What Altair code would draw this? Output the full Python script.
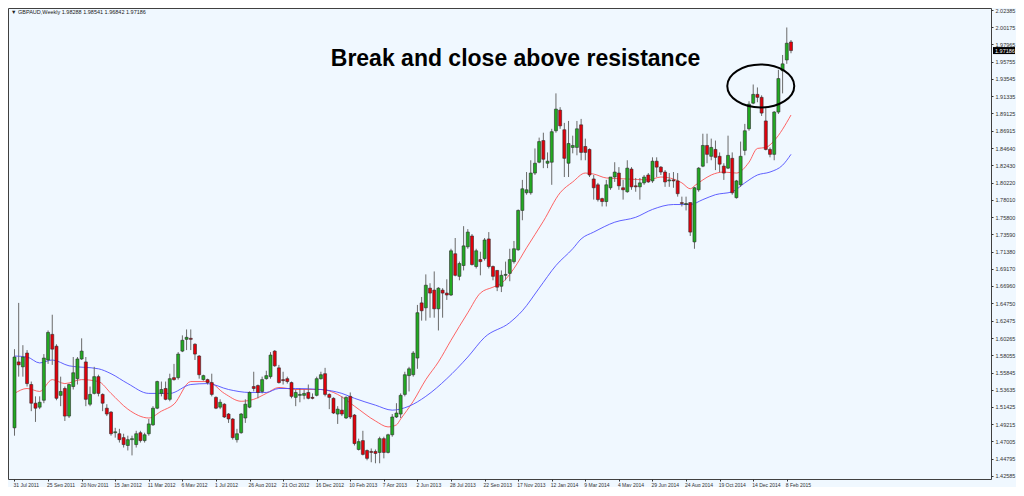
import json
import altair as alt
import pandas as pd

# ---- weekly GBPAUD candles ----
opens = [1.4875,1.5721,1.5658,1.5835,1.5431,1.5191,1.5140,1.5229,1.5746,1.6075,
         1.5923,1.5292,1.5380,1.5026,1.5405,1.5506,1.5759,1.5721,1.5178,1.5317,
         1.5532,1.5304,1.5127,1.5077,1.4812,1.4799,1.4749,1.4648,1.4723,1.4660,
         1.4812,1.4711,1.4799,1.4913,1.5127,1.5317,1.5380,1.5241,1.5519,1.5519,
         1.5860,1.6011,1.6024,1.5948,1.5797,1.5494,1.5494,1.5456,1.5266,1.5140,
         1.5178,1.5052,1.4988,1.4723,1.4812,1.5001,1.5140,1.5405,1.5418,1.5342,
         1.5506,1.5532,1.5860,1.5645,1.5494,1.5506,1.5456,1.5266,1.5292,1.5292,
         1.5329,1.5266,1.5292,1.5506,1.5570,1.5304,1.5254,1.5052,1.5102,1.5001,
         1.5279,1.5039,1.4597,1.4711,1.4584,1.4572,1.4572,1.4559,1.4736,1.4559,
         1.4786,1.5014,1.5052,1.5304,1.5545,1.5557,1.5771,1.6479,1.6416,1.6668,
         1.6643,1.6403,1.6643,1.6605,1.6580,1.7110,1.6820,1.6959,1.7199,1.7338,
         1.6946,1.7035,1.7047,1.7300,1.6946,1.6896,1.6693,1.6833,1.6858,1.7009,
         1.7161,1.7666,1.7893,1.7893,1.8146,1.8285,1.8563,1.8272,1.8285,1.8689,
         1.8954,1.8702,1.8272,1.8475,1.8475,1.8765,1.8487,1.8449,1.8070,1.7995,
         1.7818,1.7780,1.7957,1.8095,1.8146,1.7957,1.7906,1.8197,1.7982,1.7969,
         1.8020,1.8121,1.8045,1.8298,1.8222,1.8159,1.8045,1.8058,1.8045,1.7767,
         1.7742,1.7767,1.7262,1.7931,1.8234,1.8500,1.8361,1.8449,1.8361,1.8235,
         1.8209,1.8335,1.7830,1.7995,1.8437,1.8714,1.9043,1.9156,1.9118,1.8815,
         1.8449,1.8386,1.8929,1.9460,1.9598,1.98288]
highs = [1.5885,1.6479,1.5936,1.5873,1.5469,1.5279,1.5279,1.5822,1.6125,1.6327,
         1.5948,1.5532,1.5405,1.5443,1.5784,1.5784,1.6024,1.5784,1.5405,1.5658,
         1.5557,1.5317,1.5178,1.5089,1.4875,1.4862,1.4799,1.4774,1.4774,1.4837,
         1.4837,1.4812,1.4988,1.5153,1.5480,1.5469,1.5469,1.5570,1.5696,1.5847,
         1.6062,1.6138,1.6138,1.5961,1.5809,1.5557,1.5506,1.5570,1.5279,1.5241,
         1.5191,1.5065,1.5001,1.4862,1.5065,1.5241,1.5342,1.5595,1.5431,1.5532,
         1.5608,1.5847,1.5873,1.5683,1.5595,1.5532,1.5469,1.5367,1.5380,1.5367,
         1.5431,1.5317,1.5532,1.5595,1.5645,1.5317,1.5266,1.5153,1.5279,1.5279,
         1.5329,1.5052,1.4736,1.4837,1.4597,1.4610,1.4597,1.4761,1.4761,1.4799,
         1.5052,1.5191,1.5317,1.5595,1.5658,1.5860,1.6453,1.6555,1.6845,1.6731,
         1.6883,1.6681,1.6668,1.6782,1.7174,1.7312,1.7009,1.7464,1.7426,1.7363,
         1.7174,1.7136,1.7312,1.7388,1.6959,1.6896,1.6896,1.7009,1.7174,1.7274,
         1.7679,1.8058,1.8159,1.8310,1.8462,1.8601,1.8664,1.8411,1.8714,1.9169,
         1.8992,1.8790,1.8815,1.8626,1.8815,1.8841,1.8588,1.8462,1.8121,1.8020,
         1.7830,1.8058,1.8095,1.8285,1.8222,1.8058,1.8310,1.8222,1.8083,1.8083,
         1.8121,1.8146,1.8348,1.8348,1.8235,1.8184,1.8146,1.8159,1.8146,1.7843,
         1.7843,1.7767,1.7969,1.8222,1.8651,1.8651,1.8588,1.8563,1.8411,1.8272,
         1.8626,1.8411,1.8058,1.8550,1.8777,1.9068,1.9283,1.9245,1.9144,1.8980,
         1.8474,1.8942,1.9472,1.9662,2.0015,1.98541]
lows = [1.4774,1.5532,1.5532,1.5405,1.5089,1.4951,1.5115,1.5191,1.5696,1.5683,
        1.5229,1.5153,1.4963,1.5001,1.5367,1.5431,1.5746,1.5153,1.5153,1.5304,
        1.5279,1.5089,1.5026,1.4774,1.4749,1.4686,1.4622,1.4584,1.4521,1.4622,
        1.4686,1.4686,1.4774,1.4900,1.5115,1.5279,1.5229,1.5216,1.5481,1.5494,
        1.5847,1.5873,1.5873,1.5746,1.5506,1.5481,1.5431,1.5279,1.5115,1.5115,
        1.5001,1.4938,1.4723,1.4686,1.4799,1.4938,1.5127,1.5342,1.5254,1.5317,
        1.5494,1.5506,1.5658,1.5443,1.5431,1.5443,1.5254,1.5153,1.5203,1.5241,
        1.5241,1.5241,1.5279,1.5494,1.5279,1.5115,1.5052,1.4925,1.5026,1.4988,
        1.4988,1.4648,1.4584,1.4521,1.4458,1.4433,1.4420,1.4420,1.4483,1.4546,
        1.4761,1.5001,1.5001,1.5279,1.5342,1.5532,1.5633,1.6251,1.6251,1.6289,
        1.6289,1.6125,1.6289,1.6517,1.6567,1.6820,1.6769,1.6896,1.7174,1.6959,
        1.6921,1.6833,1.7022,1.6921,1.6769,1.6630,1.6618,1.6769,1.6757,1.6984,
        1.7148,1.7540,1.7868,1.7868,1.8121,1.8272,1.8209,1.8209,1.7995,1.8664,
        1.8714,1.8095,1.8095,1.8399,1.8374,1.8310,1.8310,1.8095,1.7805,1.7780,
        1.7717,1.7717,1.7931,1.8032,1.7931,1.7805,1.7893,1.7931,1.7906,1.7805,
        1.7995,1.8020,1.8020,1.8095,1.8121,1.7969,1.7969,1.7957,1.7843,1.7717,
        1.7666,1.7338,1.7174,1.7906,1.8222,1.8272,1.8310,1.8184,1.8159,1.8058,
        1.8197,1.7868,1.7818,1.7969,1.8374,1.8689,1.9030,1.9055,1.8879,1.8437,
        1.8348,1.8310,1.8904,1.9169,1.9548,1.96842]
closes = [1.5784,1.5683,1.5784,1.5443,1.5191,1.5127,1.5203,1.5771,1.6100,1.5885,
          1.5254,1.5342,1.5026,1.5431,1.5582,1.5759,1.5860,1.5241,1.5304,1.5532,
          1.5317,1.5191,1.5052,1.4799,1.4824,1.4723,1.4660,1.4723,1.4736,1.4799,
          1.4711,1.4786,1.4925,1.5127,1.5469,1.5367,1.5241,1.5506,1.5494,1.5822,
          1.5999,1.6037,1.6011,1.5822,1.5557,1.5545,1.5456,1.5304,1.5127,1.5203,
          1.5014,1.4989,1.4749,1.4799,1.5052,1.5178,1.5329,1.5380,1.5329,1.5494,
          1.5545,1.5809,1.5671,1.5456,1.5481,1.5469,1.5279,1.5329,1.5304,1.5317,
          1.5254,1.5254,1.5506,1.5557,1.5304,1.5266,1.5065,1.5115,1.5052,1.5266,
          1.5014,1.4673,1.4698,1.4534,1.4483,1.4559,1.4546,1.4736,1.4559,1.4786,
          1.5014,1.5065,1.5292,1.5557,1.5633,1.5835,1.6353,1.6378,1.6706,1.6605,
          1.6403,1.6668,1.6605,1.6580,1.7148,1.6833,1.6984,1.7211,1.7388,1.6971,
          1.7148,1.7009,1.7287,1.6946,1.6820,1.6681,1.6833,1.6845,1.7035,1.7174,
          1.7666,1.7944,1.7931,1.8146,1.8272,1.8550,1.8323,1.8298,1.8677,1.8967,
          1.8752,1.8335,1.8525,1.8500,1.8714,1.8411,1.8411,1.8121,1.7957,1.7805,
          1.7780,1.7995,1.8095,1.8159,1.7982,1.7931,1.8209,1.7969,1.7969,1.8020,
          1.8095,1.8032,1.8298,1.8222,1.8159,1.8032,1.8058,1.8045,1.7881,1.7755,
          1.7755,1.7388,1.7957,1.8209,1.8500,1.8386,1.8475,1.8348,1.8260,1.8146,
          1.8373,1.7893,1.8045,1.8361,1.8689,1.9030,1.9156,1.9118,1.8916,1.8449,
          1.8386,1.8929,1.9359,1.9548,1.9813,1.97186]

# ---- moving averages (read at sampled bars) ----
red_ma_bar = [0,3,6,9,12,16,20,23,27,32,35,38,42,46,50,54,57,60,63,67,
              73,77,81,86,89,91,92,95,98,101,104,108,111,114,116,119,122,126,130,133,
              136,138,141,146,151,154,157,159,161,162,164,166,169,172,175,177,179,181,185]
red_ma = [1.5317,1.5380,1.5342,1.5494,1.5443,1.5494,1.5469,1.5317,1.5115,1.5001,
          1.5089,1.5178,1.5469,1.5469,1.5317,1.5216,1.5241,1.5317,1.5393,1.5367,
          1.5367,1.5304,1.5153,1.4963,1.4887,1.4913,1.4988,1.5216,1.5494,1.5721,
          1.5999,1.6353,1.6605,1.6681,1.6731,1.6921,1.7186,1.7527,1.7893,1.8032,
          1.8146,1.8133,1.8083,1.8070,1.8058,1.8095,1.8070,1.8020,1.7944,1.7982,
          1.8058,1.8121,1.8159,1.8146,1.8285,1.8462,1.8474,1.8563,1.8891]
blue_ma_bar = [0,3,6,9,13,20,23,27,32,37,42,46,51,56,60,63,67,73,78,81,
               86,90,94,98,103,108,112,118,121,125,129,133,135,138,143,148,152,157,161,164,
               167,171,174,177,180,183,185]
blue_ma = [1.5797,1.5784,1.5708,1.5746,1.5671,1.5633,1.5570,1.5443,1.5317,1.5317,
           1.5431,1.5443,1.5367,1.5329,1.5329,1.5380,1.5380,1.5367,1.5317,1.5254,
           1.5166,1.5102,1.5153,1.5279,1.5506,1.5784,1.6037,1.6226,1.6378,1.6668,
           1.6959,1.7174,1.7300,1.7388,1.7515,1.7578,1.7679,1.7742,1.7742,1.7805,
           1.7868,1.7906,1.8020,1.8121,1.8159,1.8247,1.8386]

# ---- axis labels ----
date_labels = ["31 Jul 2011","25 Sep 2011","20 Nov 2011","15 Jan 2012","11 Mar 2012",
               "6 May 2012","1 Jul 2012","26 Aug 2012","21 Oct 2012","16 Dec 2012",
               "10 Feb 2013","7 Apr 2013","2 Jun 2013","28 Jul 2013","22 Sep 2013",
               "17 Nov 2013","12 Jan 2014","9 Mar 2014","4 May 2014","29 Jun 2014",
               "24 Aug 2014","19 Oct 2014","14 Dec 2014","8 Feb 2015"]
price_labels = [2.02385,2.00175,1.97965,1.95755,1.93545,1.91335,1.89125,1.86915,
                1.84640,1.82430,1.80220,1.78010,1.75800,1.73590,1.71380,1.69170,
                1.66960,1.64750,1.62475,1.60265,1.58055,1.55845,1.53635,1.51425,
                1.49215,1.47005,1.44795,1.42585]

symbol = "GBPAUD,Weekly"
title_text = "Break and close above resistance"

# ---- tables ----
n = len(opens)
candles = pd.DataFrame({"bar": list(range(n)), "o": opens, "h": highs,
                        "l": lows, "c": closes})
red_df = pd.DataFrame({"bar": red_ma_bar, "v": red_ma})
blue_df = pd.DataFrame({"bar": blue_ma_bar, "v": blue_ma})

W, H = 983, 471
xscale = alt.Scale(domain=[-0.354, 231.46], nice=False, zero=False)
yscale = alt.Scale(domain=[1.4218, 2.0265], nice=False, zero=False)

label_font = "Liberation Sans"
x_axis = alt.Axis(values=list(range(0, 8 * len(date_labels), 8)),
                  labelExpr=json.dumps(date_labels) + "[round(datum.value/8)]",
                  labelAlign="left", labelOffset=-1.5, labelFontSize=5,
                  labelFont=label_font, labelColor="#333333", tickSize=2,
                  tickColor="#333333", domain=False, grid=False, labelPadding=1,
                  labelOverlap=False, labelFlush=False, title=None)
y_axis = alt.Axis(orient="right", values=price_labels,
                  labelExpr="format(datum.value, '.5f')", labelFontSize=5.5,
                  labelFont=label_font, labelColor="#333333", tickSize=2,
                  tickColor="#333333", domain=False, grid=False, labelPadding=2,
                  labelOverlap=False, labelFlush=False, labelBaseline="middle",
                  title=None)

X = alt.X("bar:Q", scale=xscale, axis=x_axis)

red_line = alt.Chart(red_df).mark_line(
    color="#FF4A4A", strokeWidth=1, opacity=0.85, interpolate="monotone"
).encode(x=X, y=alt.Y("v:Q", scale=yscale, axis=y_axis))

blue_line = alt.Chart(blue_df).mark_line(
    color="#4646FF", strokeWidth=1, opacity=0.85, interpolate="monotone"
).encode(x=X, y=alt.Y("v:Q", scale=yscale, axis=y_axis))

wicks = alt.Chart(candles).mark_rule(color="#6a6a6a", strokeWidth=1).encode(
    x=X, y=alt.Y("l:Q", scale=yscale, axis=y_axis), y2="h:Q")

bodies = alt.Chart(candles).mark_bar(size=3, stroke="#2b2b2b", strokeWidth=0.6).encode(
    x=X, y=alt.Y("o:Q", scale=yscale, axis=y_axis), y2="c:Q",
    color=alt.condition("datum.c >= datum.o", alt.value("#22AA22"), alt.value("#E3000B")))

header = alt.Chart(pd.DataFrame({"t": [
    "\u25BC " + symbol + "  " + " ".join(f"{v:.5f}" for v in
                                          (opens[-1], highs[-1], lows[-1], closes[-1]))
]})).mark_text(align="left", baseline="middle", fontSize=5.5, font=label_font,
               color="#222222").encode(text="t:N", x=alt.value(3), y=alt.value(4))

title = alt.Chart(pd.DataFrame({"t": [title_text]})).mark_text(
    align="center", baseline="alphabetic", fontSize=23, fontWeight="bold",
    font="Liberation Sans", color="#000000"
).encode(text="t:N", x=alt.value(507.5), y=alt.value(57.5))

ellipse_path = ("M1,0 C1,0.3535 0.5523,0.64 0,0.64 C-0.5523,0.64 -1,0.3535 -1,0 "
                "C-1,-0.3535 -0.5523,-0.64 0,-0.64 C0.5523,-0.64 1,-0.3535 1,0 Z")
ellipse = alt.Chart(pd.DataFrame({"bar": [177.8], "p": [1.9264]})).mark_point(
    shape=ellipse_path, size=4489, filled=False, stroke="#000000",
    strokeWidth=2, opacity=1
).encode(x=X, y=alt.Y("p:Q", scale=yscale, axis=y_axis))

last_df = pd.DataFrame({"p": [closes[-1]], "p1": [closes[-1] + 0.0045],
                        "p2": [closes[-1] - 0.0045],
                        "t": [f"{closes[-1]:.5f}"]})
price_box = alt.Chart(last_df).mark_rect(color="#000000").encode(
    x=alt.value(W + 2), x2=alt.value(W + 24),
    y=alt.Y("p1:Q", scale=yscale, axis=y_axis), y2="p2:Q")
price_txt = alt.Chart(last_df).mark_text(
    align="left", baseline="middle", fontSize=5.5, font=label_font, color="#FFFFFF"
).encode(x=alt.value(W + 4), y=alt.Y("p:Q", scale=yscale, axis=y_axis), text="t:N")

chart = alt.layer(
    red_line, blue_line, wicks, bodies, header, title, ellipse, price_box, price_txt
).properties(
    width=W, height=H,
    autosize=alt.AutoSizeParams(type="none"),
    padding={"left": 0, "top": 0, "right": 25, "bottom": 8},
    background="#F0F8FF",
).configure_view(stroke="#404040", strokeWidth=1, fill="#F0F8FF")

chart.save("out.html", embed_options={"renderer": "svg", "actions": False})
